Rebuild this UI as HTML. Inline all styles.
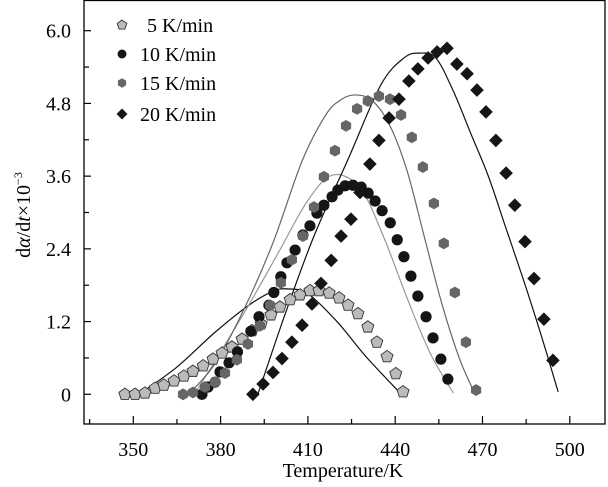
<!DOCTYPE html>
<html><head><meta charset="utf-8"><style>
html,body{margin:0;padding:0;background:#fff;}
svg{display:block;font-family:"Liberation Serif",serif;}
</style></head><body>
<svg id="chart" width="608" height="487" viewBox="0 0 608 487" xmlns="http://www.w3.org/2000/svg">
<rect x="84" y="0.5" width="521" height="423.5" fill="none" stroke="#000" stroke-width="1.3"/>
<g id="ticks"></g>
<g id="fits"></g>
<g id="marks"></g>
<text x="343" y="477" font-size="20" text-anchor="middle">Temperature/K</text>
<text transform="translate(30,215) rotate(-90)" font-size="20" text-anchor="middle">d<tspan font-style="italic">α</tspan>/d<tspan font-style="italic">t</tspan>×10<tspan font-size="12" dy="-8">−3</tspan></text>
<g id="legend"></g>
</svg>
<script>
const xTicks=[350,380,410,440,470,500];
const xMinor=[335,365,395,425,455,485,515];
const yTicks=[0,1.2,2.4,3.6,4.8,6.0];
const yTickLabels=["0","1.2","2.4","3.6","4.8","6.0"];
const yMinor=[0.6,1.8,3.0,4.2,5.4];
const seriesNames=["5 K/min","10 K/min","15 K/min","20 K/min"];

const t5=[347.1,350.6,354.0,357.5,360.5,364.0,367.4,370.5,374.0,377.4,380.5,383.9,387.4,390.8,393.9,397.3,400.4,403.9,407.3,410.7,413.8,417.3,420.7,423.8,427.2,430.6,433.7,437.2,440.2,442.7];
const v5=[0,0,0.02,0.10,0.15,0.22,0.30,0.38,0.47,0.58,0.68,0.78,0.91,1.05,1.16,1.31,1.44,1.56,1.64,1.71,1.71,1.67,1.59,1.47,1.33,1.11,0.86,0.62,0.34,0.04];
const t10=[373.6,375.7,378.1,379.8,382.9,385.8,390.4,393.2,396.6,398.3,400.7,402.8,405.6,408.3,410.7,413.1,415.5,418.3,420.3,422.8,425.5,428.3,430.7,433.1,435.5,438.3,440.7,443.0,445.4,447.8,450.6,453.0,455.7,458.1];
const v10=[0,0.12,0.20,0.37,0.52,0.70,1.04,1.28,1.47,1.68,1.94,2.17,2.38,2.63,2.78,2.99,3.12,3.26,3.37,3.44,3.45,3.42,3.32,3.19,3.03,2.83,2.55,2.27,1.95,1.62,1.28,0.93,0.58,0.25];
const t15=[367.1,370.5,374.6,378.1,381.5,385.6,389.4,393.5,397.0,400.7,404.5,408.3,412.1,415.5,419.3,423.1,426.9,430.6,434.4,438.2,442.0,445.7,449.5,453.3,456.7,460.5,464.3,467.8];
const v15=[0,0.03,0.12,0.20,0.35,0.57,0.83,1.13,1.47,1.84,2.22,2.61,3.09,3.59,4.02,4.43,4.71,4.84,4.92,4.87,4.61,4.24,3.75,3.15,2.49,1.68,0.86,0.07];
const t20=[391.1,394.6,398.0,401.1,404.5,408.0,411.4,414.5,418.0,421.4,424.8,427.9,431.3,434.4,437.9,441.3,444.7,447.8,451.3,454.4,457.8,461.2,464.7,468.1,471.2,474.6,478.1,481.1,484.6,487.7,491.1,494.2];
const v20=[0,0.17,0.36,0.59,0.86,1.14,1.49,1.83,2.21,2.61,2.89,3.33,3.80,4.19,4.56,4.87,5.17,5.37,5.55,5.65,5.71,5.45,5.29,5.02,4.66,4.19,3.65,3.12,2.52,1.91,1.24,0.56];

const fitT5=[352,365,378,390,398,403,410,420,430,441.5];
const fitV5=[0,0.45,1.02,1.48,1.7,1.74,1.66,1.2,0.62,0.03];
const fitT10=[371,380,390,400,410,418.6,428,436,444,452,460];
const fitV10=[0,0.7,1.5,2.35,3.2,3.62,3.4,2.6,1.6,0.68,0.02];
const fitT15=[369,378,388,398,408,416,421,426,432,438,444,450,456,462,466.7];
const fitV15=[0,0.5,1.4,2.5,3.85,4.6,4.85,4.94,4.85,4.45,3.7,2.6,1.5,0.6,0.08];
const fitT20=[392.8,402,412,424,435,443,448.5,454,460,466,472,478,484,490,496];
const fitV20=[0,1.3,2.6,3.9,5.1,5.55,5.63,5.55,5.0,4.3,3.6,2.75,1.9,1.0,0.04];

const NS="http://www.w3.org/2000/svg";
function X(t){return 133.3+(t-350)*2.91;}
function Y(v){return 394.3-v*60.6;}
function mk(tag,attrs,parent){const e=document.createElementNS(NS,tag);for(const k in attrs)e.setAttribute(k,attrs[k]);parent.appendChild(e);return e;}

const tg=document.getElementById('ticks');
xTicks.forEach(t=>{
  const l=mk('line',{x1:X(t),x2:X(t),y1:424,y2:416,stroke:'#000','stroke-width':1.2},tg);
  
  
  const tx=mk('text',{x:X(t),y:456,'font-size':20,'text-anchor':'middle'},tg);
  tx.textContent=t;
  
  
});
xMinor.forEach(t=>{
  const l=mk('line',{x1:X(t),x2:X(t),y1:424,y2:419,stroke:'#000','stroke-width':1.2},tg);
  
  
});
yTicks.forEach((v,i)=>{
  const l=mk('line',{x1:84,x2:91,y1:Y(v),y2:Y(v),stroke:'#000','stroke-width':1.2},tg);
  
  
  const tx=mk('text',{x:71,y:Y(v)+7,'font-size':20,'text-anchor':'end'},tg);
  tx.textContent=yTickLabels[i];
  
  
});
yMinor.forEach(v=>{
  const l=mk('line',{x1:84,x2:89,y1:Y(v),y2:Y(v),stroke:'#000','stroke-width':1.2},tg);
  
  
});

function smoothPath(ts,vs){
  const p=ts.map((t,i)=>[X(t),Y(vs[i])]);
  let d='M'+p[0][0]+','+p[0][1];
  for(let i=0;i<p.length-1;i++){
    const p0=p[Math.max(0,i-1)],p1=p[i],p2=p[i+1],p3=p[Math.min(p.length-1,i+2)];
    const c1x=p1[0]+(p2[0]-p0[0])/6,c1y=p1[1]+(p2[1]-p0[1])/6;
    const c2x=p2[0]-(p3[0]-p1[0])/6,c2y=p2[1]-(p3[1]-p1[1])/6;
    d+=' C'+c1x+','+c1y+' '+c2x+','+c2y+' '+p2[0]+','+p2[1];
  }
  return d;
}
const fg=document.getElementById('fits');
const fits=[[fitT5,fitV5,'#111','fit-curve-5'],[fitT10,fitV10,'#999','fit-curve-10'],[fitT15,fitV15,'#666','fit-curve-15'],[fitT20,fitV20,'#111','fit-curve-20']];
fits.forEach(f=>{
  const p=mk('path',{d:smoothPath(f[0],f[1]),fill:'none',stroke:f[2],'stroke-width':1.2},fg);
  
  
});

function poly(cx,cy,r,n,rot){const pts=[];for(let k=0;k<n;k++){const a=rot+k*2*Math.PI/n;pts.push((cx+r*Math.cos(a)).toFixed(2)+','+(cy+r*Math.sin(a)).toFixed(2));}return pts.join(' ');}
function marker(kind,cx,cy,parent,s){
  s=s||1;let e;
  if(kind===0) e=mk('polygon',{points:poly(cx,cy,6.3*s,5,-Math.PI/2),fill:'#bbb',stroke:'#333','stroke-width':0.9},parent);
  else if(kind===1) e=mk('circle',{cx:cx,cy:cy,r:5.6*s,fill:'#151515'},parent);
  else if(kind===2) e=mk('polygon',{points:poly(cx,cy,5.9*s,6,Math.PI/6),fill:'#666'},parent);
  else e=mk('polygon',{points:poly(cx,cy,6.8*s,4,0),fill:'#151515'},parent);
  return e;
}
const mg=document.getElementById('marks');
const sets=[[t5,v5,0,'point-5k'],[t10,v10,1,'point-10k'],[t15,v15,2,'point-15k'],[t20,v20,3,'point-20k']];
sets.forEach(s=>{
  s[0].forEach((t,i)=>{
    const e=marker(s[2],X(t),Y(s[1][i]),mg);
    
    
  });
});

const lg=document.getElementById('legend');
const legY=[25,54,83,114];
seriesNames.forEach((n,i)=>{
  const e=marker(i,122,legY[i],lg,0.8);
  
  
  const tx=mk('text',{x:i===0?147:140,y:legY[i]+7,'font-size':20},lg);
  tx.textContent=n;
  
  
});
</script>
</body></html>
